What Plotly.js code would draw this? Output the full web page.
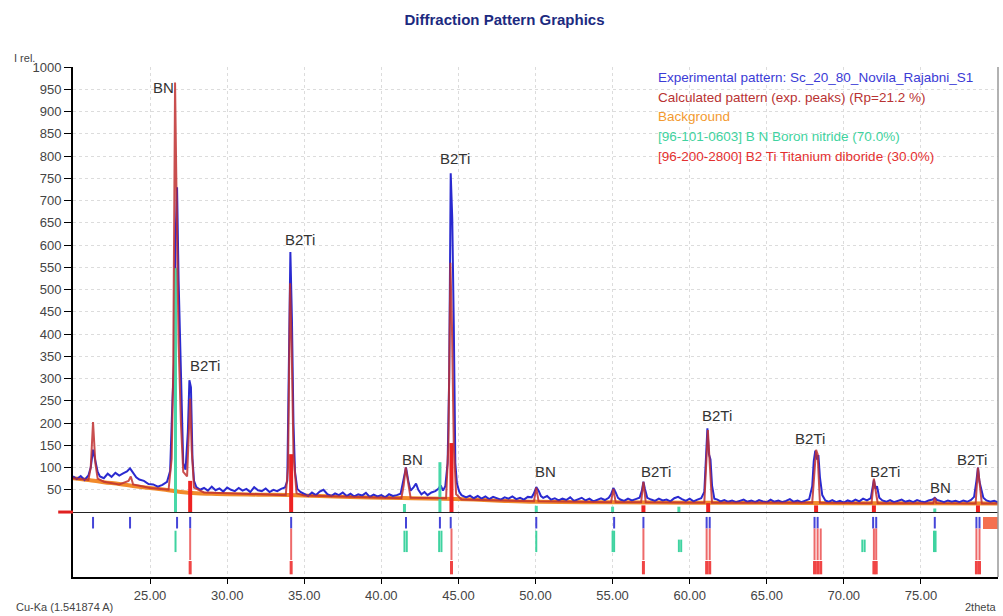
<!DOCTYPE html>
<html>
<head>
<meta charset="utf-8">
<script src="https://cdn.plot.ly/plotly-3.0.1.min.js"></script>
<style>html,body{margin:0;padding:0;background:#fff;}#chart{width:1003px;height:616px;}</style>
</head>
<body>
<div id="chart"></div>
<script>
// ---- Experimental pattern (2theta, I rel.) ----
const expX = [20.0,20.25,20.5,20.75,21.0,21.15,21.3,21.4,21.5,21.6,21.75,22.0,22.25,22.5,22.75,23.0,23.25,23.5,23.7,23.9,24.1,24.3,24.6,24.9,25.2,25.5,25.8,26.1,26.3,26.45,26.55,26.65,26.75,26.85,26.95,27.05,27.15,27.3,27.45,27.55,27.65,27.75,27.85,28.0,28.25,28.5,28.75,29.0,29.25,29.5,29.75,30.0,30.25,30.5,30.75,31.0,31.25,31.5,31.75,32.0,32.25,32.5,32.75,33.0,33.25,33.5,33.75,33.9,34.0,34.1,34.2,34.3,34.4,34.55,34.75,35.0,35.25,35.5,35.75,36.0,36.25,36.5,36.75,37.0,37.25,37.5,37.75,38.0,38.25,38.5,38.75,39.0,39.25,39.5,39.75,40.0,40.25,40.5,40.75,41.0,41.25,41.45,41.6,41.75,41.9,42.1,42.25,42.4,42.6,42.8,43.0,43.25,43.5,43.7,43.85,44.0,44.15,44.3,44.4,44.5,44.6,44.7,44.8,44.9,45.05,45.2,45.5,45.75,46.0,46.25,46.5,46.75,47.0,47.25,47.5,47.75,48.0,48.25,48.5,48.75,49.0,49.25,49.5,49.75,49.9,50.05,50.2,50.35,50.5,50.75,51.0,51.25,51.5,51.75,52.0,52.25,52.5,52.75,53.0,53.25,53.5,53.75,54.0,54.25,54.5,54.75,54.9,55.05,55.2,55.35,55.5,55.75,56.0,56.25,56.5,56.75,56.9,57.0,57.1,57.25,57.5,57.75,58.0,58.25,58.5,58.75,59.0,59.25,59.5,59.75,60.0,60.25,60.5,60.75,60.95,61.05,61.15,61.25,61.35,61.45,61.6,61.8,62.0,62.25,62.5,62.75,63.0,63.25,63.5,63.75,64.0,64.25,64.5,64.75,65.0,65.25,65.5,65.75,66.0,66.25,66.5,66.75,67.0,67.25,67.5,67.75,67.95,68.05,68.15,68.25,68.35,68.45,68.6,68.8,69.0,69.25,69.5,69.75,70.0,70.25,70.5,70.75,71.0,71.25,71.5,71.75,71.85,71.95,72.05,72.15,72.3,72.5,72.75,73.0,73.25,73.5,73.75,74.0,74.25,74.5,74.75,75.0,75.25,75.5,75.75,75.9,76.05,76.25,76.5,76.75,77.0,77.25,77.5,77.75,78.0,78.25,78.45,78.6,78.7,78.8,78.9,79.05,79.25,79.5,79.75,80.0];
const expY = [80,74,81,72,82,100,140,125,108,90,80,76,86,79,88,82,87,91,98,88,78,73,70,63,62,57,61,68,92,250,335,610,730,520,364,200,110,95,180,296,280,120,70,
  56,50,54,48,57,49,53,46,55,50,47,54,48,52,45,56,49,47,53,45,50,47,52,55,
  70,300,584,435,200,90,
  52,45,40,36,44,38,46,50,40,36,42,38,44,36,41,35,40,37,43,34,39,35,38,33,40,36,38,41,
  75,100,70,48,56,64,50,
  40,45,38,44,47,
  52,60,48,58,110,300,761,660,420,110,65,
  46,38,33,37,31,36,30,35,29,34,31,28,33,30,35,29,32,28,34,33,
  42,56,48,36,
  32,36,28,31,26,30,27,33,25,29,32,26,30,24,28,31,27,32,
  40,54,44,32,
  28,25,30,26,29,32,
  48,68,52,32,
  28,25,30,26,28,24,31,34,29,25,30,24,28,31,
  45,130,188,130,118,60,30,
  28,24,27,23,26,22,25,28,23,26,22,27,24,22,28,23,26,22,25,29,23,26,22,25,29,
  58,115,138,118,128,78,38,
  26,23,27,22,25,21,26,23,28,24,30,26,31,
  52,72,52,58,32,
  26,23,27,22,25,28,23,26,22,27,24,22,26,28,
  32,27,
  25,22,26,23,25,22,26,23,27,
  34,70,100,68,52,32,
  26,23,25,22];

// ---- Calculated pattern ----
const calcX = [20.0,21.0,21.15,21.3,21.45,21.6,22.0,23.0,23.6,23.75,23.9,25.0,26.2,26.4,26.5,26.62,26.72,26.85,27.0,27.15,27.4,27.5,27.6,27.7,27.85,28.5,33.8,33.95,34.08,34.18,34.3,34.5,35.0,41.3,41.45,41.58,41.7,41.9,44.2,44.35,44.48,44.58,44.7,44.85,45.2,49.9,50.05,50.2,54.9,55.05,55.2,56.85,57.0,57.15,60.95,61.1,61.18,61.3,61.45,67.95,68.1,68.2,68.3,68.45,71.8,71.95,72.1,72.2,75.8,75.9,76.0,78.55,78.7,78.8,78.95,80.0];
const calcY = [76,72,100,202,110,75,68,62,70,80,62,54,50,120,315,965,700,380,200,90,80,160,255,140,55,44,38,100,514,380,130,42,37,31,60,100,70,32,31,150,560,420,150,40,28,24,55,24,22,52,22,22,68,22,21,150,184,110,21,21,100,140,130,21,20,75,40,20,20,32,20,19,100,60,19,19];

// ---- Background ----
const bgX = [20,21,22,23,24,25,26,27,28,29,30,32,34,36,38,40,42,44,46,48,50,55,60,65,70,75,80];
const bgY = [76,72,67,63,58,54,50,45,42,41,40,39,38,36,34,32,31,30,28,25,23,22,21,21,20,20,19];

// ---- Phase reference lines (plot area) ----
const bnLineX = [26.65,41.5,43.8,50.05,55.0,59.3,75.9];
const bnLineY = [548,18,112,14,12,12,8];
const tiLineX = [27.6,34.15,44.55,57.0,61.2,68.2,71.95,78.7];
const tiLineY = [70,130,155,15,20,15,15,15];

// ---- Stick markers below zero ----
const expPeakX = [21.3,23.7,26.75,27.6,34.15,41.6,43.8,44.5,50.05,55.1,57.0,61.1,61.3,68.1,68.3,71.9,72.1,75.9,78.6,78.8];
const bnStickX = [26.65,41.5,41.65,43.75,43.9,50.05,55.0,55.1,75.85,75.95];
const bnStick2X = [59.3,59.45,71.2,71.35];
const tiStickX = [27.6,34.15,44.55,57.0,61.1,61.3,68.1,68.3,68.5,71.95,72.1,78.6,78.8];

// ---- Peak labels ----
const lblText = ["BN","B2Ti","B2Ti","B2Ti","BN","BN","B2Ti","B2Ti","B2Ti","B2Ti","BN","B2Ti"];
const lblX = [25.85,28.55,34.75,44.8,42.05,50.65,57.8,61.8,67.8,72.7,76.3,78.3];
const lblY = [955,330,612,795,117,90,90,216,166,90,54,117];

// ---- Legend ----
const legText = ["Experimental pattern: Sc_20_80_Novila_Rajabni_S1","Calculated pattern (exp. peaks) (Rp=21.2 %)","Background","[96-101-0603] B N Boron nitride (70.0%)","[96-200-2800] B2 Ti Titanium diboride (30.0%)"];
const legColor = ["#3b3bd6","#b83232","#f39a30","#3fd3a0","#e43030"];

const yTicks = [50,100,150,200,250,300,350,400,450,500,550,600,650,700,750,800,850,900,950,1000];
const xTicks = [25,30,35,40,45,50,55,60,65,70,75];

function segs(xs, y0, y1s) {
  const X = [], Y = [];
  xs.forEach((x, i) => {
    const y1 = Array.isArray(y1s) ? y1s[i] : y1s;
    X.push(x, x, null); Y.push(y0, y1, null);
  });
  return {x: X, y: Y};
}

const traces = [];
function lineTrace(s, color, width) {
  traces.push({x: s.x, y: s.y, type: 'scatter', mode: 'lines', line: {color: color, width: width}, hoverinfo: 'skip', showlegend: false});
}
// sticks below zero
lineTrace(segs(expPeakX, -11, -37), '#4545d8', 2);
lineTrace(segs(bnStickX, -42, -90), '#3fd3a0', 2);
lineTrace(segs(bnStick2X, -62, -90), '#3fd3a0', 2);
lineTrace(segs(tiStickX, -37, -108), '#ee6a6a', 2);
lineTrace(segs(tiStickX, -110, -140), '#f04545', 3);
traces.push({x: [79.5], y: [27], base: [-38], width: [1.0], type: 'bar', marker: {color: '#f47050', line: {width: 0}}, hoverinfo: 'skip', showlegend: false});

// background
traces.push({x: bgX, y: bgY, type: 'scatter', mode: 'lines', line: {color: '#f28a2a', width: 4, shape: 'spline'}, hoverinfo: 'skip', showlegend: false});
// experimental
traces.push({x: expX, y: expY, type: 'scatter', mode: 'lines', line: {color: '#2a2ad0', width: 2}, hoverinfo: 'skip', showlegend: false});
// phase lines in plot
lineTrace(segs(bnLineX, 0, bnLineY), '#48d8a8', 3);
lineTrace(segs(tiLineX, 0, tiLineY), '#ee2222', 4);
// calculated
traces.push({x: calcX, y: calcY, type: 'scatter', mode: 'lines', line: {color: '#c03030', width: 2}, opacity: 0.85, hoverinfo: 'skip', showlegend: false});

const ann = [];
lblText.forEach((t, i) => ann.push({x: lblX[i], y: lblY[i], text: t, showarrow: false, xanchor: 'center', yanchor: 'middle', font: {family: 'Liberation Sans, Arial', size: 15, color: '#333'}}));
legText.forEach((t, i) => ann.push({x: 57.8, y: 977 - i * 44.5, text: t, showarrow: false, xanchor: 'left', yanchor: 'middle', font: {family: 'Liberation Sans, Arial', size: 13.5, color: legColor[i]}}));
ann.push({xref: 'paper', yref: 'paper', x: -0.066, y: 1.018, text: 'I rel.', showarrow: false, xanchor: 'left', yanchor: 'middle', font: {family: 'Liberation Sans, Arial', size: 11, color: '#444'}});
ann.push({xref: 'paper', yref: 'paper', x: -0.064, y: -0.058, text: 'Cu-Ka (1.541874 A)', showarrow: false, xanchor: 'left', yanchor: 'middle', font: {family: 'Liberation Sans, Arial', size: 11, color: '#444'}});
ann.push({xref: 'paper', yref: 'paper', x: 1.0, y: -0.058, text: '2theta', showarrow: false, xanchor: 'right', yanchor: 'middle', font: {family: 'Liberation Sans, Arial', size: 11, color: '#444'}});

const layout = {
  width: 1003, height: 616,
  margin: {l: 73, r: 5, t: 67, b: 39},
  paper_bgcolor: '#fff', plot_bgcolor: '#fff',
  title: {text: '<b>Diffraction Pattern Graphics</b>', x: 0.503, xanchor: 'center', y: 0.968, yanchor: 'middle', font: {family: 'Liberation Sans, Arial', size: 15, color: '#1c2a80'}},
  xaxis: {range: [20, 80], tickvals: xTicks, ticktext: xTicks.map(v => v.toFixed(2)), ticks: 'outside', ticklen: 5, tickcolor: '#000', showline: true, linecolor: '#000', linewidth: 2, showgrid: true, gridcolor: '#dcdcdc', griddash: 'dot', gridwidth: 1, zeroline: false, tickfont: {family: 'Liberation Sans, Arial', size: 13, color: '#444'}, fixedrange: true},
  yaxis: {range: [-146, 1000], tickvals: yTicks, ticks: 'outside', ticklen: 7, tickcolor: '#000', showline: true, linecolor: '#000', linewidth: 2, showgrid: true, gridcolor: '#dcdcdc', griddash: 'dot', gridwidth: 1, zeroline: true, zerolinecolor: '#222', zerolinewidth: 1, tickfont: {family: 'Liberation Sans, Arial', size: 13, color: '#444'}, fixedrange: true},
  annotations: ann,
  shapes: [
    {type: 'line', xref: 'paper', yref: 'paper', x0: 1, x1: 1, y0: 0, y1: 1, line: {color: '#999', width: 1.5}},
    {type: 'line', xref: 'paper', yref: 'y', x0: -0.016, x1: 0, y0: 0, y1: 0, line: {color: '#e02020', width: 3}}
  ],
  bargap: 0
};
Plotly.newPlot('chart', traces, layout, {displayModeBar: false, staticPlot: true});
</script>
</body>
</html>
